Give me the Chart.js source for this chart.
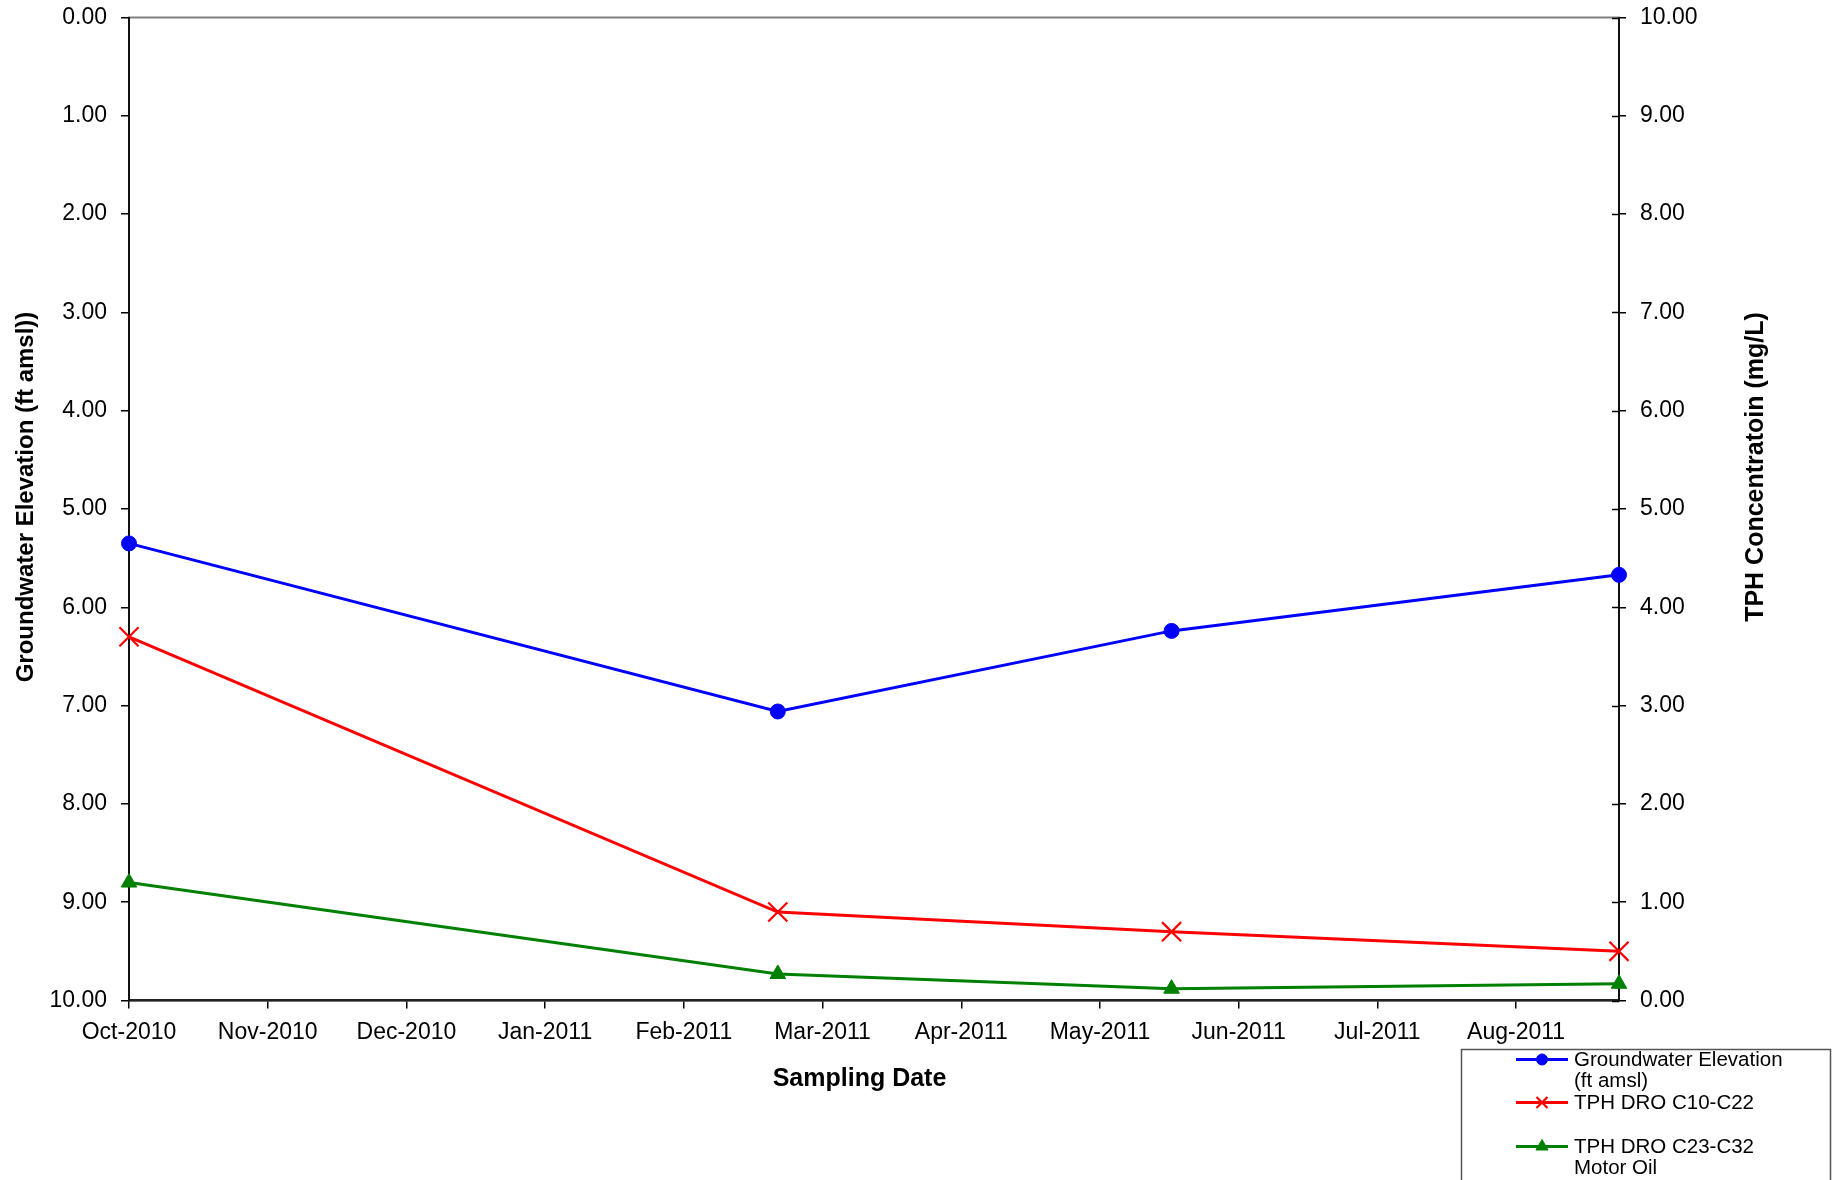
<!DOCTYPE html>
<html><head><meta charset="utf-8">
<script src="https://cdn.jsdelivr.net/npm/chart.js@4/dist/chart.umd.min.js"></script>
<style>html,body{margin:0;padding:0;background:#fff}canvas{display:block}</style>
</head><body>
<canvas id="c" width="1839" height="1180"></canvas>
<script>
const sampleDates = ['2010-10-01','2011-02-23','2011-05-22','2011-08-30'];
const groundwaterElevation = [5.35, 7.06, 6.24, 5.67];
const tphDroC10C22 = [3.70, 0.90, 0.70, 0.50];
const tphDroC23C32 = [1.20, 0.27, 0.12, 0.17];
const xTickLabels = ['Oct-2010','Nov-2010','Dec-2010','Jan-2011','Feb-2011','Mar-2011','Apr-2011','May-2011','Jun-2011','Jul-2011','Aug-2011'];
const xTickStepDays = 31;
const seriesNames = ['Groundwater Elevation (ft amsl)','TPH DRO C10-C22','TPH DRO C23-C32 Motor Oil'];
const legendLines = [['Groundwater Elevation','(ft amsl)'],['TPH DRO C10-C22'],['TPH DRO C23-C32','Motor Oil']];
const leftAxisTitle = 'Groundwater Elevation (ft amsl))';
const rightAxisTitle = 'TPH Concentratoin (mg/L)';
const xAxisTitle = 'Sampling Date';

const DAY = 86400000;
const FONT = '"Liberation Sans", Arial, Helvetica, sans-serif';
const toTime = s => Date.parse(s + 'T00:00:00Z');
const xs = sampleDates.map(toTime);
const pts = vals => vals.map((v, i) => ({x: xs[i], y: v}));

const decor = {
  id: 'decor',
  beforeDraw(chart) {
    const {ctx, chartArea: a} = chart;
    ctx.save();
    ctx.strokeStyle = '#808080';
    ctx.lineWidth = 2;
    ctx.strokeRect(a.left, a.top, a.right - a.left, a.bottom - a.top);
    ctx.restore();
  },
  afterDraw(chart) {
    const {ctx, chartArea: a} = chart;
    const yr = chart.scales.yR;
    ctx.save();
    ctx.strokeStyle = '#000';
    ctx.lineWidth = 1.5;
    yr.ticks.forEach(t => {
      const y = Math.round(yr.getPixelForValue(t.value)) + 0.5;
      ctx.beginPath(); ctx.moveTo(a.right - 7, y); ctx.lineTo(a.right, y); ctx.stroke();
    });
    // axis titles
    ctx.fillStyle = '#000';
    ctx.textAlign = 'center';
    ctx.textBaseline = 'middle';
    ctx.font = 'bold 24px ' + FONT;
    ctx.save(); ctx.translate(26, 497); ctx.rotate(-Math.PI / 2); ctx.fillText(leftAxisTitle, 0, 0); ctx.restore();
    ctx.font = 'bold 25px ' + FONT;
    ctx.save(); ctx.translate(1756, 467); ctx.rotate(-Math.PI / 2); ctx.fillText(rightAxisTitle, 0, 0); ctx.restore();
    ctx.fillText(xAxisTitle, 859.5, 1079);
    // legend
    ctx.strokeStyle = '#555';
    ctx.lineWidth = 1.5;
    ctx.strokeRect(1461.5, 1049.5, 369, 140);
    const rowY = [1059.5, 1102.5, 1146.5];
    const markerR = [5.5, 7.8, 7];
    chart.data.datasets.forEach((ds, i) => {
      const y = rowY[i];
      ctx.strokeStyle = ds.borderColor;
      ctx.fillStyle = ds.backgroundColor;
      ctx.lineWidth = 3;
      ctx.beginPath(); ctx.moveTo(1516, y); ctx.lineTo(1568, y); ctx.stroke();
      ctx.lineWidth = ds.pointBorderWidth || 1;
      Chart.helpers.drawPoint(ctx, {pointStyle: ds.pointStyle, radius: markerR[i], borderWidth: ds.pointBorderWidth || 1, rotation: 0}, 1542, y);
      ctx.fillStyle = '#000';
      ctx.textAlign = 'left';
      ctx.textBaseline = 'middle';
      ctx.font = '20.5px ' + FONT;
      legendLines[i].forEach((ln, k) => ctx.fillText(ln, 1574, y + 1 + k * 21));
    });
    ctx.restore();
  }
};

const tickFont = {family: FONT, size: 23};
const noPadV = s => { s.paddingTop = 0; s.paddingBottom = 0; };

new Chart(document.getElementById('c'), {
  type: 'line',
  data: {
    datasets: [
      {label: seriesNames[0], data: pts(groundwaterElevation), yAxisID: 'yL',
       borderColor: '#0000FF', backgroundColor: '#0000FF', borderWidth: 3,
       pointStyle: 'circle', pointRadius: 7.5, pointBorderWidth: 1, tension: 0, clip: false},
      {label: seriesNames[1], data: pts(tphDroC10C22), yAxisID: 'yR',
       borderColor: '#FF0000', backgroundColor: '#FF0000', borderWidth: 3,
       pointStyle: 'crossRot', pointRadius: 13.5, pointBorderWidth: 2.2, tension: 0, clip: false},
      {label: seriesNames[2], data: pts(tphDroC23C32), yAxisID: 'yR',
       borderColor: '#008000', backgroundColor: '#008000', borderWidth: 3,
       pointStyle: 'triangle', pointRadius: 9, pointBorderWidth: 1, tension: 0, clip: false}
    ]
  },
  options: {
    responsive: false,
    animation: false,
    layout: {padding: {top: 17.5, left: 0, right: 0, bottom: 0}},
    plugins: {legend: {display: false}, title: {display: false}, tooltip: {enabled: false}},
    scales: {
      x: {
        type: 'linear', position: 'bottom',
        min: xs[0], max: xs[xs.length - 1],
        afterBuildTicks: s => { s.ticks = xTickLabels.map((_, i) => ({value: xs[0] + i * xTickStepDays * DAY})); },
        afterFit: s => { s.height = 179.5; s.paddingLeft = 0; s.paddingRight = 0; },
        ticks: {autoSkip: false, maxRotation: 0, minRotation: 0, font: tickFont, color: '#000', padding: 10,
                callback: (v, i) => xTickLabels[i]},
        grid: {drawOnChartArea: false, tickLength: 8, color: '#000', lineWidth: 1.5},
        border: {color: '#222', width: 2.5}
      },
      yL: {
        position: 'left', reverse: true, min: 0, max: 10,
        afterFit: s => { s.width = 129; noPadV(s); },
        ticks: {stepSize: 1, font: tickFont, color: '#000', padding: 14, callback: v => Number(v).toFixed(2)},
        grid: {drawOnChartArea: false, tickLength: 8, color: '#000', lineWidth: 1.5},
        border: {color: '#111', width: 2}
      },
      yR: {
        position: 'right', min: 0, max: 10,
        afterFit: s => { s.width = 220; noPadV(s); },
        ticks: {stepSize: 1, font: tickFont, color: '#000', padding: 14, callback: v => Number(v).toFixed(2)},
        grid: {drawOnChartArea: false, tickLength: 7, color: '#000', lineWidth: 1.5},
        border: {color: '#111', width: 2}
      }
    }
  },
  plugins: [decor]
});
</script>
</body></html>
